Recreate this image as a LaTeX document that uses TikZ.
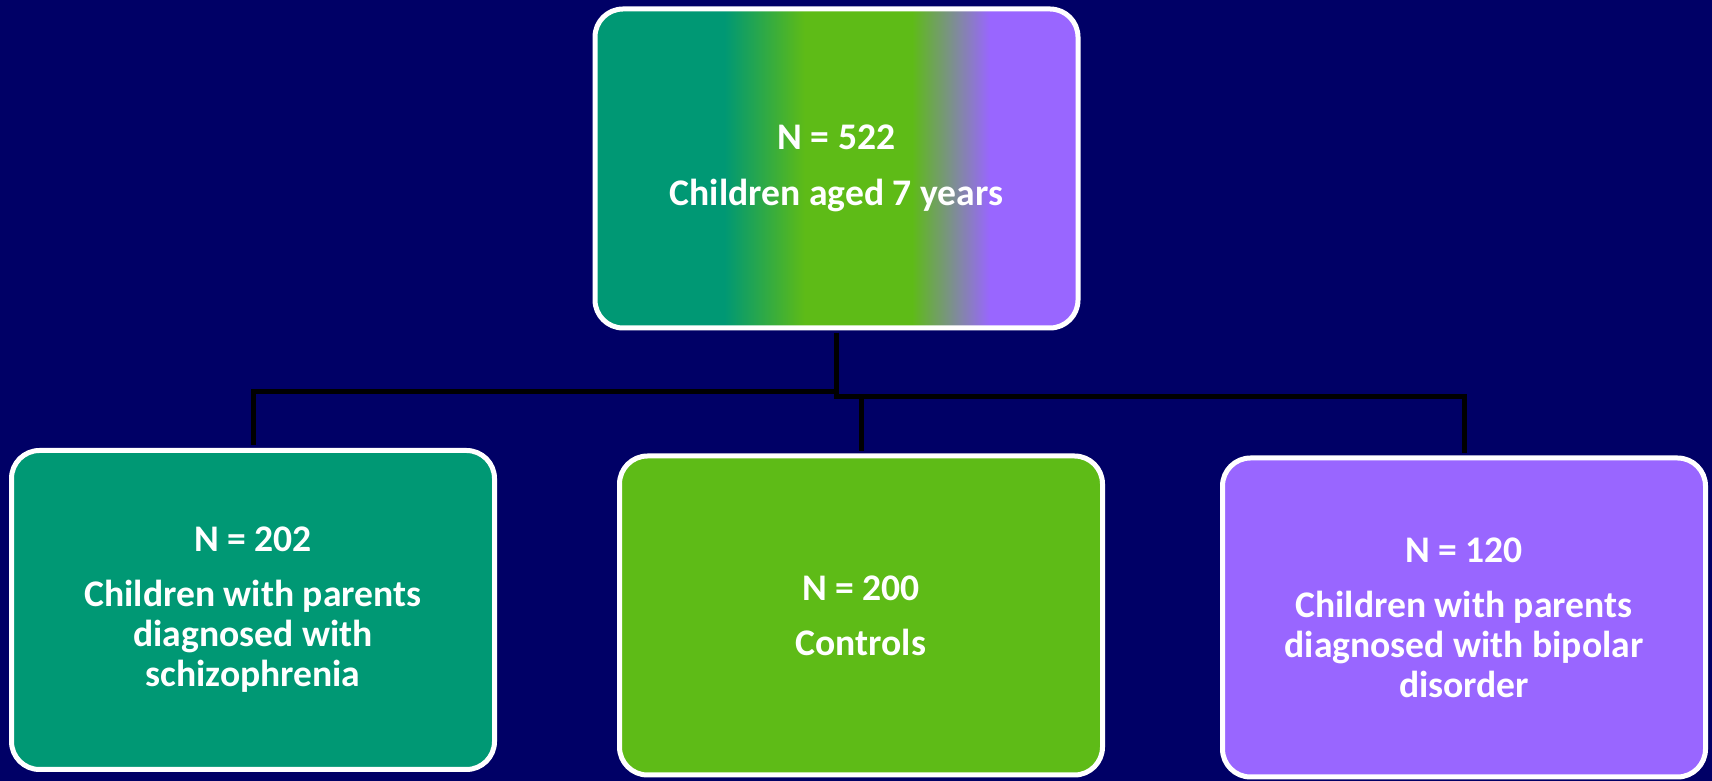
\documentclass[tikz,border=0pt]{standalone}
\usepackage{fontspec}
\setmainfont{Carlito}

\definecolor{navy}{RGB}{0,0,102}
\definecolor{sczgreen}{RGB}{0,152,116}
\definecolor{ctlgreen}{RGB}{94,187,23}
\definecolor{bpdpurple}{RGB}{153,102,255}

% the three group colours side by side, for the whole sample
\pgfdeclarehorizontalshading{mixed}{100bp}{color(0bp)=(sczgreen); color(38.4bp)=(sczgreen);
  color(46.7bp)=(ctlgreen); color(57.8bp)=(ctlgreen); color(65.9bp)=(bpdpurple); color(100bp)=(bpdpurple)}

\begin{document}
\begin{tikzpicture}[x=0.5pt,y=0.5pt]
      \tikzset{
        group/.style={rectangle,rounded corners=14pt,draw=white,line width=2.5pt,
          minimum width=241.5pt,minimum height=159.5pt,text=white,align=center,
          font=\fontsize{18.8}{20}\selectfont\bfseries},
        link/.style={line width=2.5pt,shorten <=1.25pt,shorten >=1.25pt}
      }

      \fill[navy] (0,0) rectangle (1712,781);

      \node[group,shading=mixed] (total) at (836.5,612.5)
        {N = 522\\[8pt]Children aged 7 years};
      \node[group,fill=sczgreen] (scz) at (253,171)
        {N = 202\\[7.5pt]Children with parents\\diagnosed with\\schizophrenia};
      \node[group,fill=ctlgreen] (ctl) at (861,165.5)
        {N = 200\\[7.5pt]Controls};
      \node[group,fill=bpdpurple] (bpd) at (1464,163.5)
        {N = 120\\[7.5pt]Children with parents\\diagnosed with bipolar\\disorder};

      \draw[link] (total.south) -- ++(0,-61.5) -| (scz.north);
      \draw[link] (total.south) -- ++(0,-66.5) -| (ctl.north);
      \draw[link] (total.south) -- ++(0,-66.5) -| (bpd.north);
\end{tikzpicture}
\end{document}
